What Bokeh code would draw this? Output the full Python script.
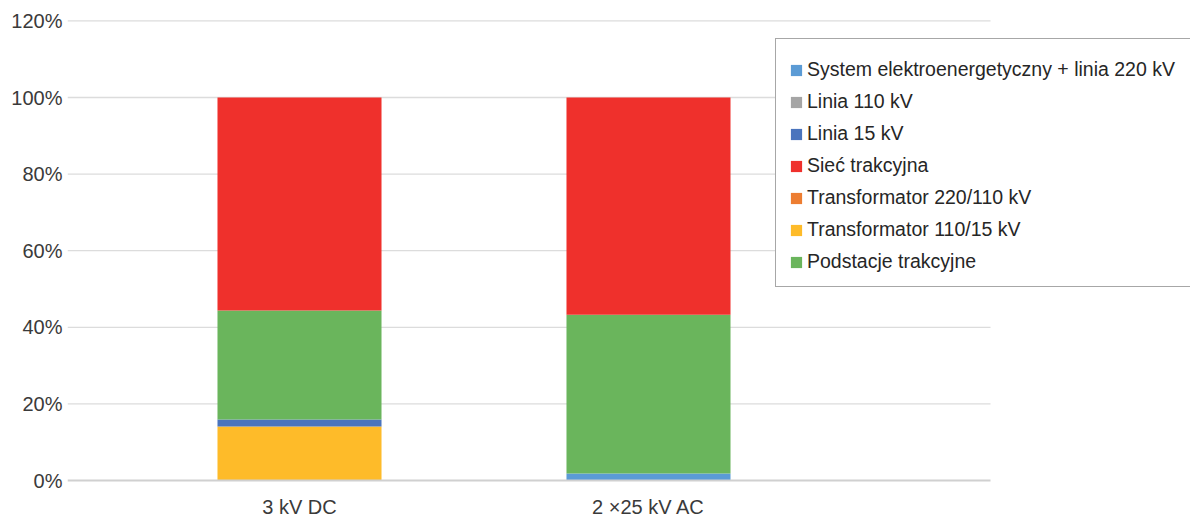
from bokeh.plotting import figure
from bokeh.models import (Range1d, FixedTicker, PrintfTickFormatter, Legend,
                          LegendItem, ColumnDataSource)
from bokeh.embed import file_html
from bokeh.resources import INLINE

# --- data (share of the total, %) ---
categories = ["3 kV DC", "2 ×25 kV AC"]
system_220 = [0.0, 1.8]          # System elektroenergetyczny + linia 220 kV
linia_110 = [0.0, 0.0]           # Linia 110 kV
linia_15 = [1.8, 0.0]            # Linia 15 kV
siec_trakcyjna = [55.6, 56.7]    # Sieć trakcyjna
trafo_220_110 = [0.0, 0.0]       # Transformator 220/110 kV
trafo_110_15 = [14.1, 0.0]       # Transformator 110/15 kV
podstacje = [28.5, 41.5]         # Podstacje trakcyjne
y_ticks = [0, 20, 40, 60, 80, 100, 120]

series = {
    "system": ("System elektroenergetyczny + linia 220 kV", system_220, "#5B9BD5"),
    "l110": ("Linia 110 kV", linia_110, "#A5A5A5"),
    "l15": ("Linia 15 kV", linia_15, "#4A74BD"),
    "siec": ("Sieć trakcyjna", siec_trakcyjna, "#EF302C"),
    "t220": ("Transformator 220/110 kV", trafo_220_110, "#ED7D31"),
    "t110": ("Transformator 110/15 kV", trafo_110_15, "#FEBB29"),
    "pod": ("Podstacje trakcyjne", podstacje, "#6AB55C"),
}
stack_order = ["system", "t110", "t220", "l110", "l15", "pod", "siec"]
legend_order = ["system", "l110", "l15", "siec", "t220", "t110", "pod"]

xpos = list(range(len(categories)))
data = {"x": xpos}
for key in stack_order:
    data[key] = series[key][1]
source = ColumnDataSource(data)

# canvas / frame geometry
W, H = 1190, 520
left, top, bottom = 67, 10, 33
px_per_cat = 349.0       # distance between category centres
px_per_pct = 3.83        # vertical pixels per percent
cat0_px = 299            # centre of the first category
zero_px = 480            # where 0 % sits
frame_w = W - left
frame_h = H - top - bottom
frame_bottom = H - bottom
x0 = -(cat0_px - left) / px_per_cat
x1 = x0 + frame_w / px_per_cat
y_bot = -(frame_bottom - zero_px) / px_per_pct
y_top = y_bot + frame_h / px_per_pct

p = figure(width=W, height=H, output_backend="svg", toolbar_location=None,
           x_range=Range1d(x0, x1), y_range=Range1d(y_bot, y_top),
           min_border_left=left, min_border_right=0,
           min_border_top=top, min_border_bottom=bottom)
p.outline_line_color = None
p.xgrid.visible = False
p.ygrid.visible = False
p.background_fill_color = "white"
p.border_fill_color = "white"

# horizontal gridlines over the plot area only
grid_end = (990 - cat0_px) / px_per_cat
gl = [t for t in y_ticks if t != 0]
p.segment(x0=[x0] * len(gl), x1=[grid_end] * len(gl), y0=gl, y1=gl,
          line_color="#DCDCDC", line_width=1.3)

renderers = p.vbar_stack(stack_order, x="x", width=0.47, source=source,
                         color=[series[k][2] for k in stack_order],
                         line_color=None)
rmap = dict(zip(stack_order, renderers))

# base line at 0 %
p.segment(x0=[x0], x1=[grid_end], y0=[0], y1=[0],
          line_color="#D0D0D0", line_width=2)

# axes
p.yaxis.ticker = FixedTicker(ticks=y_ticks)
p.yaxis.formatter = PrintfTickFormatter(format="%d%%")
p.yaxis.axis_line_color = None
p.yaxis.major_tick_line_color = None
p.yaxis.minor_tick_line_color = None
p.yaxis.major_tick_out = 0
p.yaxis.major_tick_in = 0
p.yaxis.minor_tick_out = 0
p.yaxis.major_label_standoff = 5
p.yaxis.major_label_text_font = "Liberation Sans"
p.yaxis.major_label_text_font_size = "20px"
p.yaxis.major_label_text_color = "#3A3A3A"

p.xaxis.ticker = FixedTicker(ticks=xpos)
p.xaxis.major_label_overrides = {i: c for i, c in zip(xpos, categories)}
p.xaxis.axis_line_color = None
p.xaxis.major_tick_line_color = None
p.xaxis.minor_tick_line_color = None
p.xaxis.major_tick_out = 0
p.xaxis.major_tick_in = 0
p.xaxis.minor_tick_out = 0
p.xaxis.major_label_standoff = 8
p.xaxis.major_label_text_font = "Liberation Sans"
p.xaxis.major_label_text_font_size = "20px"
p.xaxis.major_label_text_color = "#3A3A3A"

# legend box: left edge 775 px, bottom edge ~287 px (canvas coordinates)
items = [LegendItem(label=series[k][0], renderers=[rmap[k]]) for k in legend_order]
legend = Legend(items=items, location=(775 - left, frame_bottom - 287),
                title=" ", title_text_font_size="5px", title_standoff=0,
                padding=13, spacing=9, glyph_width=14, glyph_height=14,
                label_standoff=4, label_width=380,
                label_text_font="Liberation Sans",
                label_text_font_size="19.5px", label_text_color="#262626",
                border_line_color="#505050", border_line_width=1,
                background_fill_color="white", background_fill_alpha=1.0,
                margin=0)
p.add_layout(legend, "center")

open("out.html", "w").write(file_html(p, INLINE))
